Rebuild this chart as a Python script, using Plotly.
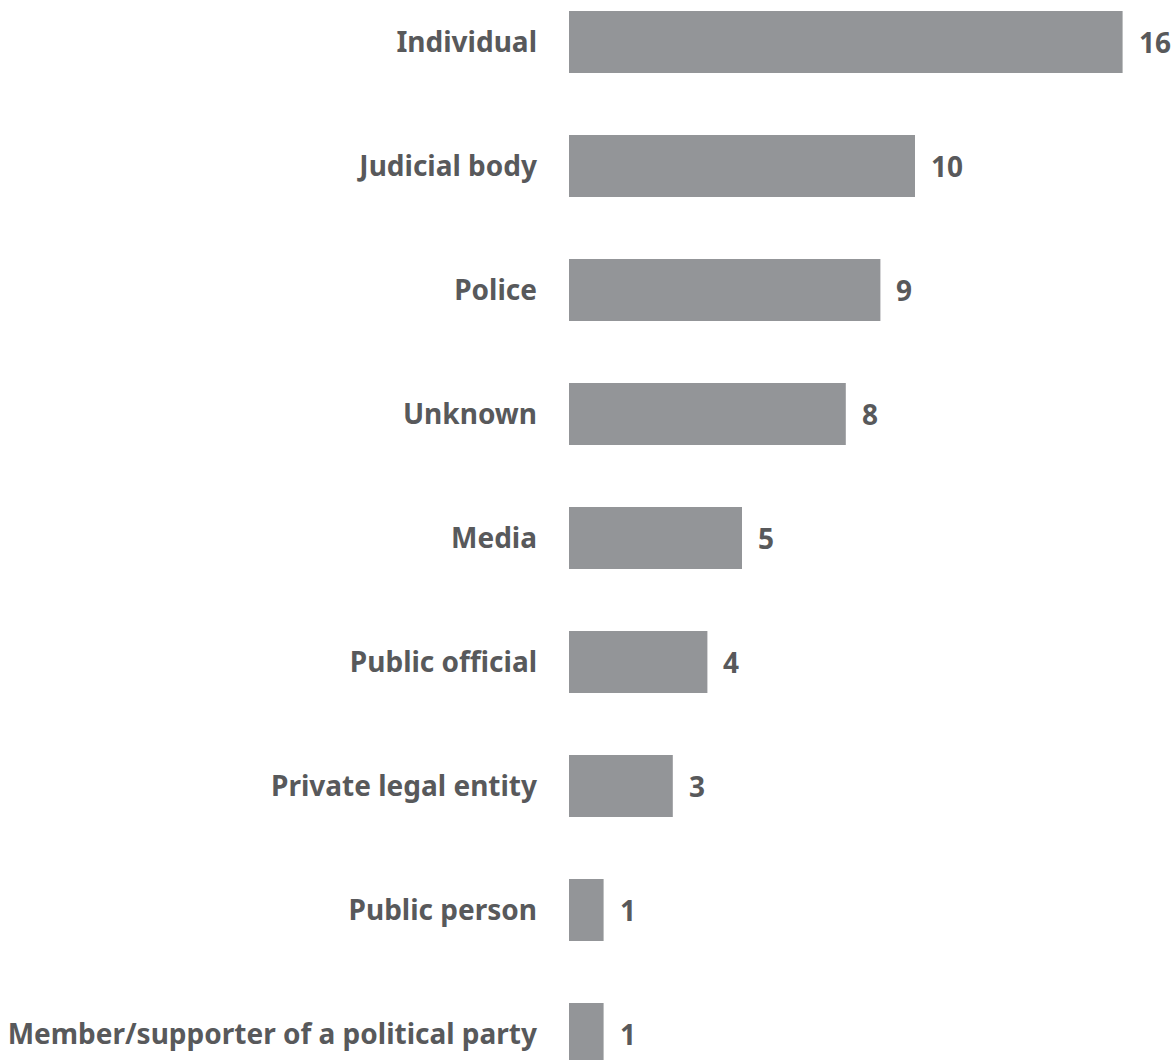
import plotly.graph_objects as go

categories = ["Individual", "Judicial body", "Police", "Unknown", "Media",
              "Public official", "Private legal entity", "Public person",
              "Member/supporter of a political party"]
values = [16, 10, 9, 8, 5, 4, 3, 1, 1]

BAR = "#939598"
TXT = "#58595b"
FONT = "Noto Sans"

fig = go.Figure()
fig.add_trace(go.Bar(
    x=values, y=categories, orientation="h",
    marker=dict(color=BAR, line=dict(width=0)),
    width=0.5, hoverinfo="skip",
))

for c, v in zip(categories, values):
    fig.add_annotation(x=v, y=c, text=f"<b>{v}</b>", showarrow=False,
                       xanchor="left", yanchor="middle", xshift=14,
                       font=dict(family=FONT, size=28, color=TXT))

fig.update_layout(
    width=1175, height=1060,
    margin=dict(l=569, r=0, t=0, b=0),
    paper_bgcolor="white", plot_bgcolor="white",
    showlegend=False,
    xaxis=dict(range=[0, 606 / 34.6], visible=False, fixedrange=True),
    yaxis=dict(
        type="category", categoryorder="array", categoryarray=categories,
        range=[8.21, -0.339],
        showgrid=False, zeroline=False, showline=False, ticks="",
        tickfont=dict(family=FONT, size=28, color=TXT, weight="bold"),
        ticklabelstandoff=31,
    ),
)

fig.write_html(
    "out.html",
    config={"displayModeBar": False},
    post_script="document.body.style.margin='0';document.body.style.overflow='hidden';",
)
